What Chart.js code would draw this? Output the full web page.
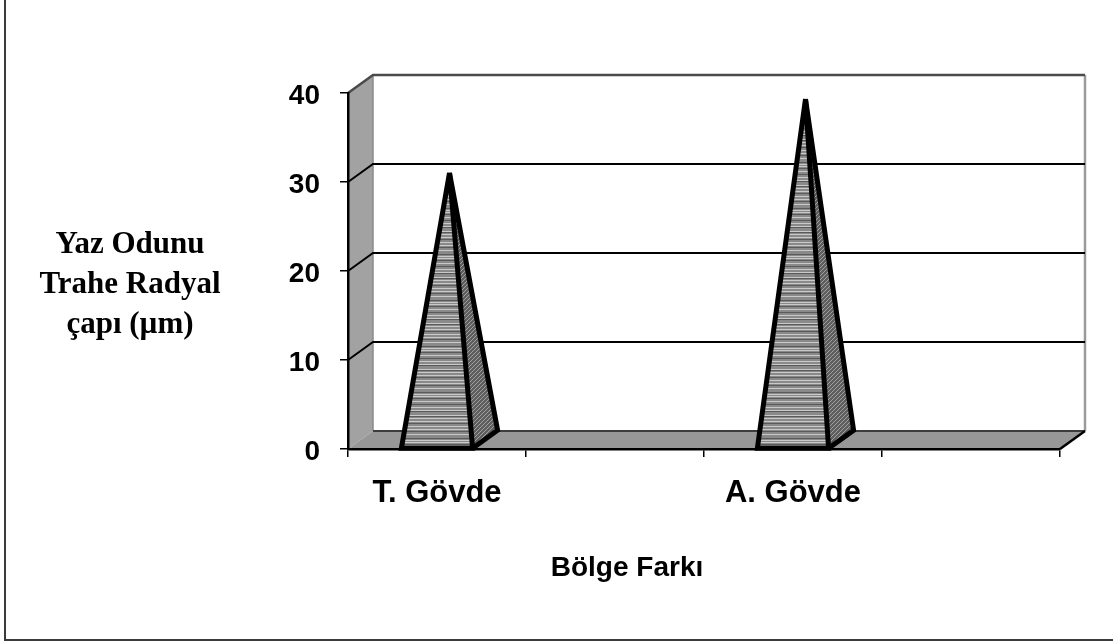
<!DOCTYPE html>
<html>
<head>
<meta charset="utf-8">
<title>Yaz Odunu Trahe Radyal çapı</title>
<script src="https://cdn.jsdelivr.net/npm/chart.js@4.4.0/dist/chart.umd.min.js"></script>
<style>
  html, body { margin: 0; padding: 0; background: #ffffff; }
  #wrap { width: 1113px; height: 642px; }
</style>
</head>
<body>
<div id="wrap"><canvas id="c" width="1113" height="642"></canvas></div>
<script>
// Category slots along the floor (two of them are left empty)
const categories = ['T. Gövde', '', 'A. Gövde', ''];
// Latewood tracheid radial diameter (µm)
const radialDiameter = [30, null, 38.3, null];
// Value axis ticks
const yTicks = [0, 10, 20, 30, 40];
// Axis titles
const yTitleLines = ['Yaz Odunu', 'Trahe Radyal', 'çapı (µm)'];
const xTitle = 'Bölge Farkı';

// depth of the 3-D box (pixels to the right / upwards)
const DX = 25, DY = 18;

function makeFrontPattern(ctx) {
  const c = document.createElement('canvas');
  c.width = 8; c.height = 46;
  const g = c.getContext('2d');
  g.fillStyle = '#898989';
  g.fillRect(0, 0, 8, 46);
  const light = [1, 4, 7, 12, 15, 20, 26, 28, 33, 39, 42];
  const dark = [2, 9, 17, 24, 30, 36, 43];
  g.fillStyle = '#c9c9c9';
  light.forEach(r => g.fillRect(0, r, 8, 1));
  g.fillStyle = '#5a5a5a';
  dark.forEach(r => g.fillRect(0, r, 8, 1));
  return ctx.createPattern(c, 'repeat');
}

function makeSidePattern(ctx) {
  const c = document.createElement('canvas');
  c.width = 4; c.height = 4;
  const g = c.getContext('2d');
  g.fillStyle = '#5e5e5e';
  g.fillRect(0, 0, 4, 4);
  g.fillStyle = '#a0a0a0';
  for (let i = 0; i < 4; i++) g.fillRect(i, 3 - i, 1, 1);
  return ctx.createPattern(c, 'repeat');
}

function line(ctx, pts, color, width) {
  ctx.beginPath();
  ctx.moveTo(pts[0][0], pts[0][1]);
  for (let i = 1; i < pts.length; i++) ctx.lineTo(pts[i][0], pts[i][1]);
  ctx.strokeStyle = color;
  ctx.lineWidth = width;
  ctx.stroke();
}

const box3d = {
  id: 'box3d',
  beforeDraw(chart) {
    const { ctx, chartArea: a, scales } = chart;
    const y = scales.y;
    const L = a.left, R = a.right, T = a.top, B = a.bottom;
    ctx.save();
    ctx.lineCap = 'butt';

    // outer frame (left and bottom edges)
    line(ctx, [[5, 0], [5, 640], [1113, 640]], '#3a3a3a', 2);

    // left side wall
    ctx.beginPath();
    ctx.moveTo(L, T); ctx.lineTo(L + DX, T - DY);
    ctx.lineTo(L + DX, B - DY); ctx.lineTo(L, B);
    ctx.closePath();
    ctx.fillStyle = '#a2a2a2';
    ctx.fill();

    // floor
    ctx.beginPath();
    ctx.moveTo(L, B); ctx.lineTo(L + DX, B - DY);
    ctx.lineTo(R + DX, B - DY); ctx.lineTo(R, B);
    ctx.closePath();
    ctx.fillStyle = '#979797';
    ctx.fill();

    // back wall edges
    line(ctx, [[L + DX, T - DY], [L + DX, B - DY]], '#8a8a8a', 1.5);
    line(ctx, [[R + DX, T - DY], [R + DX, B - DY]], '#9a9a9a', 2.5);
    line(ctx, [[L, T], [L + DX, T - DY], [R + DX, T - DY]], '#4a4a4a', 2.5);

    // gridlines across side wall and back wall
    yTicks.forEach(v => {
      if (v <= y.min || v >= y.max) return;
      const py = y.getPixelForValue(v);
      line(ctx, [[L, py], [L + DX, py - DY], [R + DX, py - DY]], '#000000', 2);
    });

    // floor back and right edges
    line(ctx, [[L + DX, B - DY], [R + DX, B - DY]], '#3c3c3c', 2);
    line(ctx, [[R, B], [R + DX, B - DY]], '#000000', 2.5);
    ctx.restore();
  },
  afterDatasetsDraw(chart) {
    const { ctx } = chart;
    const front = makeFrontPattern(ctx);
    const side = makeSidePattern(ctx);
    const meta = chart.getDatasetMeta(0);
    ctx.save();
    meta.data.forEach((el, i) => {
      if (radialDiameter[i] == null) return;
      const { x, y, base, width } = el.getProps(['x', 'y', 'base', 'width'], true);
      const fl = [x - width / 2, base];
      const fr = [x + width / 2, base];
      const br = [x + width / 2 + DX, base - DY];
      const apex = [x + DX / 2, y - DY / 2];

      // right face
      ctx.beginPath();
      ctx.moveTo(fr[0], fr[1]); ctx.lineTo(br[0], br[1]); ctx.lineTo(apex[0], apex[1]);
      ctx.closePath();
      ctx.fillStyle = side;
      ctx.fill();

      // front face
      ctx.beginPath();
      ctx.moveTo(fl[0], fl[1]); ctx.lineTo(fr[0], fr[1]); ctx.lineTo(apex[0], apex[1]);
      ctx.closePath();
      ctx.fillStyle = front;
      ctx.fill();

      // outlines
      ctx.lineJoin = 'miter';
      ctx.miterLimit = 3;
      ctx.lineWidth = 5;
      ctx.strokeStyle = '#000000';
      ctx.beginPath();
      ctx.moveTo(fl[0], fl[1]); ctx.lineTo(fr[0], fr[1]); ctx.lineTo(apex[0], apex[1]);
      ctx.closePath();
      ctx.stroke();
      ctx.beginPath();
      ctx.moveTo(fr[0], fr[1]); ctx.lineTo(br[0], br[1]); ctx.lineTo(apex[0], apex[1]);
      ctx.stroke();
    });
    ctx.restore();
  },
  afterDraw(chart) {
    const { ctx } = chart;
    ctx.save();
    ctx.fillStyle = '#000000';
    ctx.textAlign = 'center';
    ctx.textBaseline = 'alphabetic';
    ctx.font = 'bold 31px "Liberation Serif", "Times New Roman", serif';
    const baselines = [253, 293, 333];
    yTitleLines.forEach((t, i) => ctx.fillText(t, 130, baselines[i]));
    ctx.font = 'bold 28px "Liberation Sans", Arial, sans-serif';
    ctx.fillText(xTitle, 627, 576);
    ctx.restore();
  }
};

new Chart(document.getElementById('c'), {
  type: 'bar',
  data: {
    labels: categories,
    datasets: [{
      label: 'Yaz Odunu Trahe Radyal çapı (µm)',
      data: radialDiameter,
      backgroundColor: 'rgba(0,0,0,0)',
      borderWidth: 0,
      barPercentage: 0.4,
      categoryPercentage: 1.0
    }]
  },
  options: {
    responsive: false,
    animation: false,
    devicePixelRatio: 1,
    layout: { padding: { top: 93, right: 53, left: 0, bottom: 0 } },
    plugins: { legend: { display: false }, tooltip: { enabled: false }, title: { display: false } },
    scales: {
      x: {
        type: 'category',
        offset: true,
        grid: { display: true, drawOnChartArea: false, drawTicks: true, tickLength: 8, color: '#000000', lineWidth: 1.5, offset: true },
        border: { display: true, color: '#000000', width: 2.5 },
        ticks: {
          color: '#000000',
          padding: 18,
          maxRotation: 0,
          autoSkip: false,
          font: { family: '"Liberation Sans", Arial, sans-serif', size: 31, weight: 'bold' }
        },
        afterFit(scale) { scale.height = 642 - 449; }
      },
      y: {
        min: 0,
        max: 40,
        afterBuildTicks(scale) { scale.ticks = yTicks.map(v => ({ value: v })); },
        grid: { display: true, drawOnChartArea: false, drawTicks: true, tickLength: 8, color: '#000000', lineWidth: 1.5 },
        border: { display: true, color: '#000000', width: 2.5 },
        ticks: {
          color: '#000000',
          padding: 20,
          labelOffset: 3,
          font: { family: '"Liberation Sans", Arial, sans-serif', size: 28, weight: 'bold' }
        },
        afterFit(scale) { scale.width = 348; }
      }
    }
  },
  plugins: [box3d]
});
</script>
</body>
</html>
